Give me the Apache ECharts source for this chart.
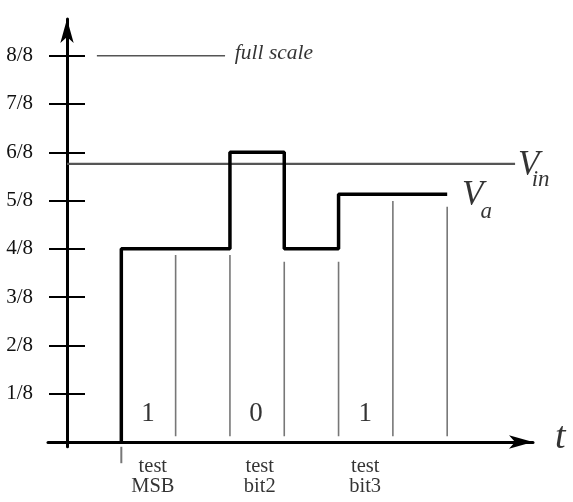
<!DOCTYPE html>
<html><head><meta charset="utf-8">
<script src="https://cdn.jsdelivr.net/npm/echarts@6/dist/echarts.min.js"></script>
<style>html,body{margin:0;padding:0;background:#fff}#c{width:573px;height:502px}</style>
</head><body><div id="c"></div>
<script>
// y ticks in eighths of full scale
const yTickValues = [1,2,3,4,5,6,7,8];
const yTickLabels = ['1/8','2/8','3/8','4/8','5/8','6/8','7/8','8/8'];
// Va staircase (time in bit slots, level in eighths)
const vaTimes  = [1, 1, 3, 3, 4, 4, 5, 5, 7];
const vaLevels = [0, 4, 4, 6, 6, 4, 4, 5.13, 5.13];
// input voltage
const vinLevel = 5.76;
const vinSpan = [0, 8.25];
// full-scale reference
const fullScaleLevel = 8;
const fullScaleSpan = [0.55, 2.91];
// thin slot divider lines
const dividerTimes = [2, 3, 4, 5, 6, 7];
const dividerTops  = [3.87, 3.87, 3.73, 3.73, 4.99, 4.87];
const dividerBottom = 0.12;
// start marker below axis
const startTime = 1;
const startMarkSpan = [-0.1, -0.44];
// decided bits
const bitValues = ['1', '0', '1'];
const bitTimes  = [1.49, 3.48, 5.49];
const bitLevel  = 0.58;
// test labels
const testLabels = ['test\nMSB', 'test\nbit2', 'test\nbit3'];
const testTimes  = [1.58, 3.55, 5.49];
const testLevel  = -0.72;

const serif = 'Liberation Serif';
const series = [];

series.push({
  type:'line', data: vaTimes.map((t,i)=>[t, vaLevels[i]]),
  symbol:'none', lineStyle:{color:'#000', width:3.5}, silent:true, z:5
});
series.push({
  type:'line', data: vinSpan.map(t=>[t, vinLevel]),
  symbol:'none', lineStyle:{color:'#555', width:2.2}, silent:true, z:4
});
series.push({
  type:'line', data: fullScaleSpan.map(t=>[t, fullScaleLevel]),
  symbol:'none', lineStyle:{color:'#555', width:1.6}, silent:true
});
dividerTimes.forEach((t,i)=>{
  series.push({
    type:'line', data: [[t, dividerBottom],[t, dividerTops[i]]],
    symbol:'none', lineStyle:{color:'#777', width:1.6}, silent:true
  });
});
series.push({
  type:'line', data: startMarkSpan.map(v=>[startTime, v]), clip:false,
  symbol:'none', lineStyle:{color:'#777', width:2}, silent:true
});

function textSeries(items, style){
  return {
    type:'scatter', symbolSize:0, clip:false, silent:true,
    data: items.map(it=>({value:[it.t, it.v], name: it.text})),
    label:Object.assign({show:true, position:'inside', formatter:p=>p.name,
      color:'#000', fontFamily:serif}, style)
  };
}
series.push(textSeries(bitValues.map((b,i)=>({text:b, t:bitTimes[i], v:bitLevel})),
  {fontSize:27, align:'center', verticalAlign:'middle'}));
series.push(textSeries(testLabels.map((b,i)=>({text:b, t:testTimes[i], v:testLevel})),
  {fontSize:20.5, lineHeight:20, align:'center', verticalAlign:'middle'}));
series.push(textSeries([{text:'full scale', t:3.09, v:8.05}],
  {fontSize:21.5, fontStyle:'italic', align:'left', verticalAlign:'middle'}));
series.push(textSeries([{text:'V', t:8.5, v:5.73},{text:'V', t:7.47, v:5.09}],
  {fontSize:35, fontStyle:'italic', align:'center', verticalAlign:'middle'}));
series.push(textSeries([{text:'in', t:8.72, v:5.42},{text:'a', t:7.72, v:4.76}],
  {fontSize:23, fontStyle:'italic', align:'center', verticalAlign:'middle'}));
series.push(textSeries([{text:'t', t:9.08, v:0.08}],
  {fontSize:38, fontStyle:'italic', align:'center', verticalAlign:'middle'}));

const chart = echarts.init(document.getElementById('c'), null, {renderer:'canvas'});
const yCommon = {type:'value', min:-0.1, max:8.76, splitLine:{show:false}, position:'left'};
chart.setOption({
  animation:false,
  backgroundColor:'#fff',
  grid:{left:48, right:40, top:19, bottom:55.2, containLabel:false, outerBoundsMode:'none'},
  xAxis:{
    type:'value', min:-0.35, max:8.58,
    axisLine:{onZero:true, symbol:['none','arrow'], symbolSize:[10,24], lineStyle:{color:'#000', width:3}},
    axisTick:{show:false}, axisLabel:{show:false}, splitLine:{show:false}
  },
  yAxis:[
    Object.assign({}, yCommon, {
      axisLine:{onZero:true, symbol:['none','arrow'], symbolSize:[10,24], lineStyle:{color:'#000', width:3}},
      axisTick:{show:true, inside:false, length:18, customValues:yTickValues, lineStyle:{color:'#000', width:2}},
      axisLabel:{show:true, customValues:yTickValues, margin:15, fontSize:21, fontFamily:serif, color:'#111',
        formatter:v=>yTickLabels[yTickValues.indexOf(Math.round(v))] || ''}
    }),
    Object.assign({}, yCommon, {
      offset:-19,
      axisLine:{show:false, onZero:false},
      axisTick:{show:true, inside:true, length:18, customValues:yTickValues, lineStyle:{color:'#000', width:2}},
      axisLabel:{show:false}
    })
  ],
  series: series
});
</script></body></html>
